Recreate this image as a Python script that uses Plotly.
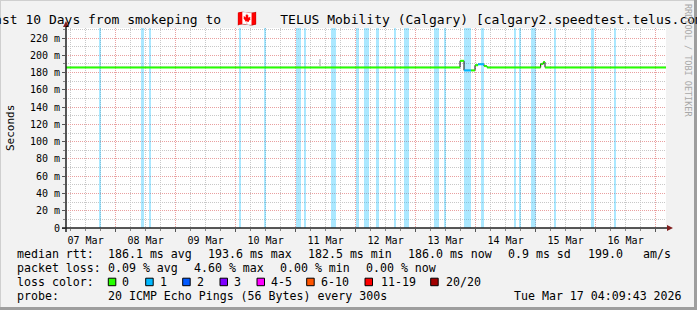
import plotly.graph_objects as go
from datetime import datetime, timedelta

# ---------------- data ----------------
t_start = "2026-03-07 04:09:43"
t_end = "2026-03-17 04:09:43"

loss_start = ["2026-03-07 17:22", "2026-03-08 10:10", "2026-03-08 13:14", "2026-03-10 01:22",
              "2026-03-10 11:22", "2026-03-11 00:10", "2026-03-11 03:22", "2026-03-11 14:10",
              "2026-03-12 00:10", "2026-03-12 03:22", "2026-03-12 08:10", "2026-03-12 15:22",
              "2026-03-12 19:22", "2026-03-13 07:22", "2026-03-13 11:22", "2026-03-13 19:22",
              "2026-03-14 02:10", "2026-03-14 15:22", "2026-03-14 17:22", "2026-03-14 22:10",
              "2026-03-15 07:22", "2026-03-15 22:10", "2026-03-16 07:22"]
loss_end = ["2026-03-07 18:10", "2026-03-08 11:22", "2026-03-08 14:02", "2026-03-10 02:10",
            "2026-03-10 12:10", "2026-03-11 02:10", "2026-03-11 04:10", "2026-03-11 16:10",
            "2026-03-12 01:22", "2026-03-12 05:22", "2026-03-12 09:22", "2026-03-12 16:10",
            "2026-03-12 21:22", "2026-03-13 09:22", "2026-03-13 12:10", "2026-03-13 22:10",
            "2026-03-14 03:22", "2026-03-14 16:10", "2026-03-14 18:10", "2026-03-15 00:10",
            "2026-03-15 08:10", "2026-03-15 23:22", "2026-03-16 08:10"]

seg_start = ["2026-03-07 04:09:43", "2026-03-13 17:46", "2026-03-13 19:22", "2026-03-13 22:10",
             "2026-03-13 23:46", "2026-03-14 00:58", "2026-03-14 03:22", "2026-03-14 04:34",
             "2026-03-15 02:02", "2026-03-15 03:05", "2026-03-15 03:46"]
seg_value = [186.0, 193.6, 182.5, 182.5, 188.5, 189.6, 187.5, 186.0, 190.0, 192.2, 186.0]
seg_loss = [0, 0, 1, 0, 0, 1, 0, 0, 0, 0, 0]

smoke_time = ["2026-03-11 09:46"]
smoke_lo = [187.5]
smoke_hi = [195.5]

y_max = 231.6
y_tickvals = [0, 20, 40, 60, 80, 100, 120, 140, 160, 180, 200, 220]
y_ticktext = ["0", "20 m", "40 m", "60 m", "80 m", "100 m", "120 m", "140 m",
              "160 m", "180 m", "200 m", "220 m"]

rtt_label = "median rtt:"
rtt_stats = ["186.1 ms avg", "193.6 ms max", "182.5 ms min", "186.0 ms now", "0.9 ms sd", "199.0", "am/s"]
loss_label = "packet loss:"
loss_stats = ["0.09 % avg", "4.60 % max", "0.00 % min", "0.00 % now"]
color_label = "loss color:"
loss_labels = ["0", "1", "2", "3", "4-5", "6-10", "11-19", "20/20"]
loss_colors = ["#26ff00", "#00b8ff", "#0059ff", "#7e00ff", "#ff00ff", "#ff5500", "#ff0000", "#a10000"]
probe_label = "probe:"
probe_text = "20 ICMP Echo Pings (56 Bytes) every 300s"
stamp_text = "Tue Mar 17 04:09:43 2026"
title_before = "Last 10 Days from smokeping to"
title_flag = "\U0001F1E8\U0001F1E6"
title_after = "TELUS Mobility (Calgary) [calgary2.speedtest.telus.com]"

# ---------------- helpers ----------------
def parse(s):
    try:
        return datetime.strptime(s, "%Y-%m-%d %H:%M:%S")
    except ValueError:
        return datetime.strptime(s, "%Y-%m-%d %H:%M")

W, H = 697, 310
L, R, T, B = 66, 31, 28, 82
PW, PH = W - L - R, H - T - B
def px(x):
    return (x - L) / PW
def py(y):
    return (T + PH - y) / PH

fig = go.Figure()

# loss background bars
ls = [parse(s) for s in loss_start]
le = [parse(s) for s in loss_end]
fig.add_trace(go.Bar(
    x=[a + (b - a) / 2 for a, b in zip(ls, le)],
    y=[y_max] * len(ls),
    width=[(b - a).total_seconds() * 1000 for a, b in zip(ls, le)],
    marker=dict(color="rgba(0,184,255,0.33)", line=dict(width=0)),
    hoverinfo="skip"))

# smoke
st = [parse(s) for s in smoke_time]
fig.add_trace(go.Bar(
    x=st, y=[h - l for l, h in zip(smoke_lo, smoke_hi)], base=smoke_lo,
    width=[48 * 60 * 1000] * len(st),
    marker=dict(color="#cfcfcf", line=dict(width=0)), hoverinfo="skip"))

# median
ss = [parse(s) for s in seg_start]
se = ss[1:] + [parse(t_end)]
bx, byv = [], []
for a, b, v in zip(ss, se, seg_value):
    bx += [a, b]
    byv += [v, v]
fig.add_trace(go.Scatter(x=bx, y=byv, mode="lines", line=dict(color="#111111", width=1), hoverinfo="skip"))
for li in sorted(set(seg_loss)):
    gx, gy = [], []
    for a, b, v, l in zip(ss, se, seg_value, seg_loss):
        if l == li:
            gx += [a, b, None]
            gy += [v, v, None]
    fig.add_trace(go.Scatter(x=gx, y=gy, mode="lines",
                             line=dict(color=loss_colors[li], width=2), hoverinfo="skip"))

MINOR_GRID = "#c8c8c8"
MAJOR_GRID = "#e9a0a0"
fig.update_xaxes(
    type="date", range=[parse(t_start), parse(t_end)],
    tick0="2026-03-07 00:00", dtick=86400000, tickformat="%d %b", ticklabelmode="period",
    showgrid=True, gridcolor=MAJOR_GRID, griddash="1px,1px", gridwidth=1,
    ticks="outside", ticklen=3, tickcolor="#555555",
    minor=dict(tick0="2026-03-07 00:00", dtick=6 * 3600000, showgrid=True, gridcolor=MINOR_GRID,
               griddash="1px,1px", ticks="outside", ticklen=2, tickcolor="#888888"),
    showline=False, zeroline=False, tickfont=dict(size=10), fixedrange=True)
fig.update_yaxes(
    range=[0, y_max], tickmode="array", tickvals=y_tickvals, ticktext=y_ticktext,
    showgrid=True, gridcolor=MAJOR_GRID, griddash="1px,1px", gridwidth=1,
    ticks="outside", ticklen=3, tickcolor="#555555",
    minor=dict(tick0=0, dtick=10, showgrid=True, gridcolor=MINOR_GRID, griddash="1px,1px",
               ticks="outside", ticklen=2, tickcolor="#888888"),
    showline=False, zeroline=False, tickfont=dict(size=10), fixedrange=True)

shapes = []
# 3D frame
shapes.append(dict(type="line", xref="paper", yref="paper", x0=px(0), x1=px(W), y0=py(0.5), y1=py(0.5),
                   line=dict(color="#cfcfcf", width=1)))
shapes.append(dict(type="line", xref="paper", yref="paper", x0=px(0.5), x1=px(0.5), y0=py(0), y1=py(H),
                   line=dict(color="#cfcfcf", width=1)))
shapes.append(dict(type="line", xref="paper", yref="paper", x0=px(0), x1=px(W), y0=py(H - 1.5), y1=py(H - 1.5),
                   line=dict(color="#9e9e9e", width=3)))
shapes.append(dict(type="line", xref="paper", yref="paper", x0=px(W - 1.5), x1=px(W - 1.5), y0=py(0), y1=py(H),
                   line=dict(color="#9e9e9e", width=3)))
# axes
shapes.append(dict(type="line", xref="paper", yref="paper", x0=px(62), x1=px(668), y0=0, y1=0,
                   line=dict(color="#1f1f1f", width=1.5)))
shapes.append(dict(type="line", xref="paper", yref="paper", x0=0, x1=0, y0=py(232), y1=py(25),
                   line=dict(color="#1f1f1f", width=1.5)))
shapes.append(dict(type="path", xref="paper", yref="paper",
                   path=f"M {px(667)} {py(225)} L {px(673)} {py(228)} L {px(667)} {py(231)} Z",
                   fillcolor="#801f1f", line=dict(width=0)))
shapes.append(dict(type="path", xref="paper", yref="paper",
                   path=f"M {px(63)} {py(27)} L {px(66)} {py(21)} L {px(69)} {py(27)} Z",
                   fillcolor="#801f1f", line=dict(width=0)))

MONO = "DejaVu Sans Mono"
LF = 11.6
ann = []
def text(x, y, s, size=LF, anchor="left", color="#000000", angle=0, yanchor="middle"):
    ann.append(dict(x=px(x), y=py(y), xref="paper", yref="paper", text=s, showarrow=False,
                    xanchor=anchor, yanchor=yanchor, borderpad=0, textangle=angle,
                    font=dict(family=MONO, size=size, color=color)))

rows = [254, 268, 282, 296]
text(16, rows[0], rtt_label)
for x, s in zip([107.3, 207.3, 306.7, 407.3, 506.7, 586.7, 641.7], rtt_stats):
    text(x, rows[0], s)
text(16, rows[1], loss_label)
for x, s in zip([107.3, 193.3, 278.7, 365], loss_stats):
    text(x, rows[1], s)
text(16, rows[2], color_label)
box_x = [108.3, 145.7, 182.7, 220, 257, 306.7, 365, 430.7]
lab_x = [121.3, 158.7, 196, 233.3, 270, 320, 380, 445]
for bxp, lxp, lab, col in zip(box_x, lab_x, loss_labels, loss_colors):
    shapes.append(dict(type="rect", xref="paper", yref="paper", x0=px(bxp), x1=px(bxp + 7.5),
                       y0=py(278.2), y1=py(285.7), fillcolor=col, line=dict(color="#000000", width=1)))
    text(lxp, rows[2], lab)
text(16, rows[3], probe_label)
text(107.3, rows[3], probe_text)
text(513.3, rows[3], stamp_text)

text(10, 128, "Seconds", size=11, anchor="center", angle=-90)
text(688, 60, "RRDTOOL / TOBI OETIKER", size=8.5, anchor="center", color="#a8a8a8", angle=90)

# the reference renders the flag as two wide "missing glyph" boxes; pad to the same width
title_html = (title_before + " &nbsp;<span style='font-size:16px'>" + title_flag +
              "</span>&nbsp;&nbsp; " + title_after)

fig.update_layout(
    width=W, height=H, margin=dict(l=L, r=R, t=T, b=B, pad=0),
    paper_bgcolor="#f2f2f2", plot_bgcolor="#ffffff",
    showlegend=False, barmode="overlay", bargap=0,
    font=dict(family=MONO, size=10, color="#000000"),
    title=dict(text=title_html, xref="container", yref="container", x=0.5, xanchor="center",
               y=1 - 19 / H, yanchor="middle", font=dict(family=MONO, size=13, color="#000000")),
    shapes=shapes, annotations=ann)

fig.write_html("out.html", config={"displayModeBar": False})
